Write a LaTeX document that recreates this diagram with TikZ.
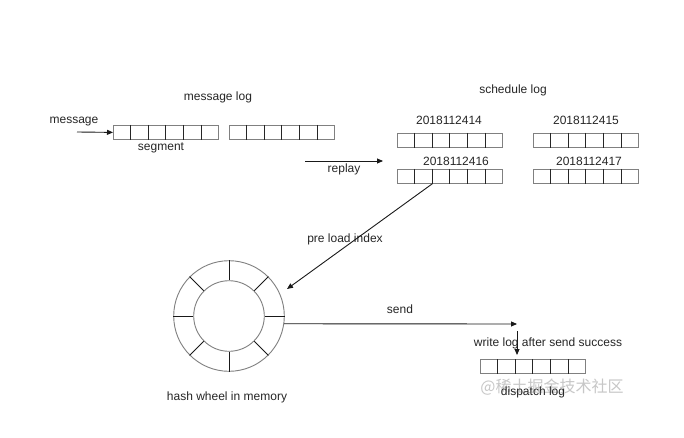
\documentclass[tikz,border=0pt]{standalone}
\usepackage{fontspec}
\setmainfont{Liberation Sans}
\newfontfamily\cjk{Noto Sans CJK SC}
\usetikzlibrary{arrows.meta,calc}
\newcommand\mycells[1]{\foreach \i in {1,...,5} \draw[line width=0.9pt, black!85] ($(#1.north west)!\i/6!(#1.north east)$) -- ($(#1.south west)!\i/6!(#1.south east)$);}
\begin{document}
\begin{tikzpicture}[x=1pt,y=-1pt,
 lbl/.style={font=\fontsize{12}{14}\selectfont, inner sep=0pt, text=black!85},
 logbox/.style={draw=black!50, line width=0.8pt, minimum width=105pt, minimum height=14pt, inner sep=0pt, anchor=north west},
 ring/.style={circle, draw=black!50, line width=0.9pt, inner sep=0pt},
 arr/.style={-{Triangle[length=6pt,width=5pt]}, line width=0.9pt, black!90}]
\useasboundingbox[fill=white] (0,0) rectangle (684,438);
% log rows
\node[logbox] (m1) at (113,125) {};
\node[logbox] (m2) at (229,125) {};
\node[logbox] (s1) at (397,133) {};
\node[logbox] (s2) at (533,133) {};
\node[logbox] (s3) at (397,169) {};
\node[logbox] (s4) at (533,169) {};
\node[logbox] (d1) at (480,359) {};
\mycells{m1}\mycells{m2}\mycells{s1}\mycells{s2}\mycells{s3}\mycells{s4}\mycells{d1}
% labels
\node[lbl] (tmsg) at (74,122) {message};
\node[lbl] (tmlog) at (218,97) {message log};
\node[lbl] (tseg) at (161,148) {segment};
\node[lbl] (tslog) at (513,90) {schedule log};
\node[lbl] (t14) at (449,120) {2018112414};
\node[lbl] (t15) at (586,120) {2018112415};
\node[lbl] (t16) at (456,161) {2018112416};
\node[lbl] (t17) at (589,161) {2018112417};
\node[lbl] (trep) at (344,169) {replay};
\node[lbl] (tpre) at (345,239) {pre load index};
\node[lbl] (tsend) at (400,309) {send};
\node[lbl] (twrite) at (548,343) {write log after send success};
\node[lbl] (thash) at (227,397) {hash wheel in memory};
\node[font=\cjk\fontsize{16}{18}\selectfont, text=black!22, inner sep=0pt] (wm) at (552,387) {@稀土掘金技术社区};
\node[lbl] (tdisp) at (533,392) {dispatch log};
% wheel
\node[ring, minimum size=110.6pt] (wo) at (229,316) {};
\node[ring, minimum size=70.6pt] (wi) at (229,316) {};
\foreach \a in {0,45,...,315} \draw[line width=0.9pt, black!90] (wi.\a) -- (wo.\a);
% arrows
\coordinate (msgstart) at (77,132);
\draw[arr] (msgstart) -- (m1.west);
\coordinate (repA) at (305,161);
\coordinate (repB) at (383,161);
\draw[arr] (repA) -- (repB);
\coordinate (preB) at (287,289);
\draw[arr] ($(s3.south west)!2/6!(s3.south east)$) -- (preB);
\coordinate (sendB) at (517,324);
\draw[arr] (wo.-8.3) -- (sendB);
\coordinate (wrA) at (517,331);
\coordinate (wrB) at (517,355);
\draw[arr] (wrA) -- (wrB);
\end{tikzpicture}
\end{document}
